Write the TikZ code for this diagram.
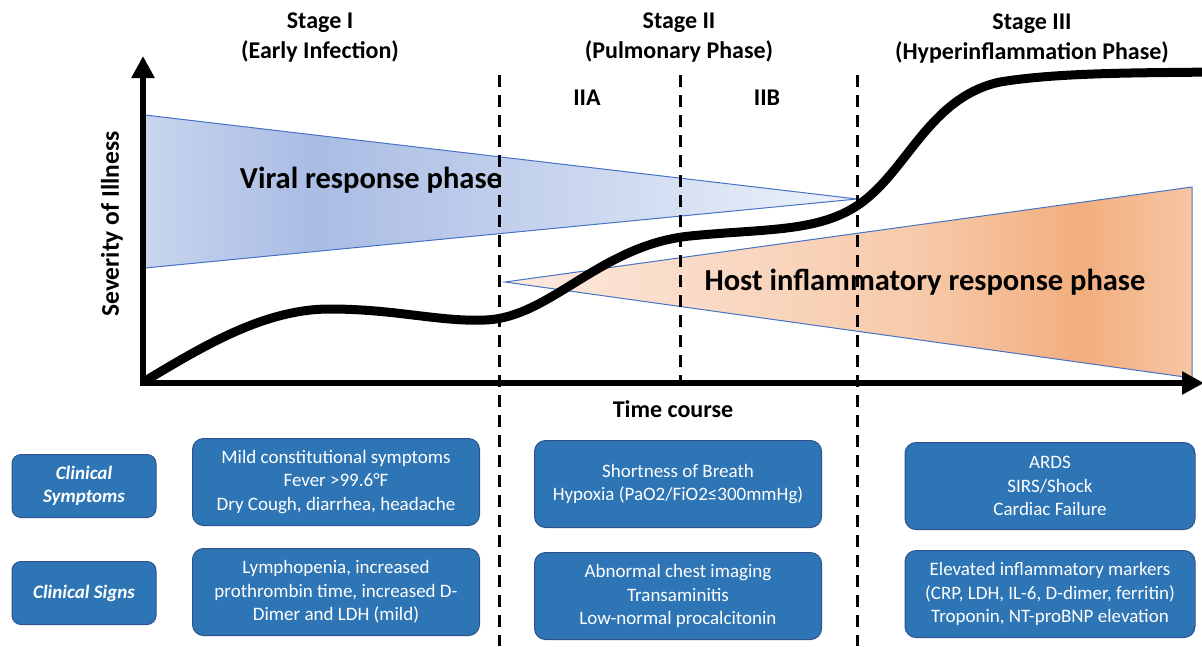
\documentclass[tikz,border=0pt]{standalone}
\usepackage{fontspec}
\setmainfont{Carlito}
\usetikzlibrary{arrows.meta}
\definecolor{boxblue}{HTML}{2E75B6}
\definecolor{boxedge}{HTML}{2F528F}
\definecolor{triedge}{HTML}{4472C4}
\definecolor{vA}{HTML}{C8D5EE}
\definecolor{vB}{HTML}{A9BCE4}
\definecolor{vC}{HTML}{EEF2FA}
\definecolor{oA}{HTML}{FCE9DE}
\definecolor{oM}{HTML}{F7CAAB}
\definecolor{oB}{HTML}{F2AE7E}
\definecolor{oC}{HTML}{F7C6A4}
\pgfdeclarehorizontalshading{viralshade}{100bp}{color(0bp)=(vA); color(25bp)=(vA); color(37bp)=(vB); color(75bp)=(vC); color(100bp)=(vC)}
\pgfdeclarehorizontalshading{hostshade}{100bp}{color(0bp)=(oA); color(25bp)=(oA); color(55bp)=(oM); color(67bp)=(oB); color(75bp)=(oC); color(100bp)=(oC)}
\tikzset{
  head/.style={font=\fontsize{24}{30}\selectfont\bfseries, align=center},
  phase/.style={font=\fontsize{30.5}{36}\selectfont\bfseries},
  infobox/.style={draw=boxedge, line width=1pt, fill=boxblue, rounded corners=11pt, text=white,
     align=center, font=\fontsize{19}{23.5}\selectfont, minimum width=287pt, minimum height=87pt, inner sep=2pt},
  labbox/.style={draw=boxedge, line width=1pt, fill=boxblue, rounded corners=9pt, text=white,
     align=center, font=\fontsize{19}{23.5}\selectfont\bfseries\itshape, minimum width=144pt, minimum height=63pt, inner sep=2pt},
  divider/.style={dash pattern=on 12pt off 8pt, line width=3pt},
  axis/.style={line width=6pt, -{Triangle[length=22pt,width=22pt]}},
  tri/.style={draw=triedge, line width=1pt}
}
\begin{document}
\begin{tikzpicture}[x=1pt,y=-1pt]
\useasboundingbox (0,0) rectangle (1202,646);
\clip (0,0) rectangle (1202,646);
% coordinates
\coordinate (o) at (143,383);
\coordinate (ytip) at (143,56);
\coordinate (xtip) at (1204,383);
\coordinate (v1) at (145,115);
\coordinate (v2) at (145,268);
\coordinate (vt) at (857,199);
\coordinate (h1) at (505,282);
\coordinate (h2) at (1192,187);
\coordinate (h3) at (1192,378);
% triangles
\path[shading=viralshade] (v1) -- (vt) -- (v2) -- cycle;
\draw[tri] (v1) -- (vt) -- (v2) -- cycle;
\path[shading=hostshade] (h1) -- (h2) -- (h3) -- cycle;
\draw[tri] (h1) -- (h2) -- (h3) -- cycle;
% dividers
\coordinate (d1t) at (499,75); \coordinate (d1b) at (499,646);
\coordinate (d2t) at (680,75); \coordinate (d2b) at (680,385);
\coordinate (d3t) at (857,75); \coordinate (d3b) at (857,646);
\draw[divider] (d1t) -- (d1b);
\draw[divider] (d2t) -- (d2b);
\draw[divider] (d3t) -- (d3b);
% curve
\draw[line width=9pt, line cap=round] (145,381)
  .. controls (205,345) and (265,309) .. (330,309)
  .. controls (395,309) and (440,322) .. (485,320)
  .. controls (550,318) and (600,245) .. (690,236)
  .. controls (760,229) and (810,232) .. (850,210)
  .. controls (905,180) and (925,98) .. (1000,82)
  .. controls (1060,72) and (1150,73) .. (1210,72);
% axes
\draw[axis] (o) ++(0,3) -- (ytip);
\draw[axis] (140,383) -- (xtip);
% headings
\node[head] (s1) at (320,38) {Stage I\\(Early Infection)};
\node[head] (s2) at (679,38) {Stage II\\(Pulmonary Phase)};
\node[head] (s3) at (1032,39) {Stage III\\(Hyperinflammation Phase)};
\node[head] (iia) at (587,98) {IIA};
\node[head] (iib) at (767,98) {IIB};
\node[phase] (viral) at (371,180) {Viral response phase};
\node[phase] (host) at (925,282) {Host inflammatory response phase};
\node[head, font=\fontsize{25.5}{30}\selectfont\bfseries, rotate=90] (yl) at (112,224) {Severity of Illness};
\node[head] (xl) at (673,409) {Time course};
% boxes
\node[labbox] (cs) at (84,486) {Clinical\\Symptoms};
\node[labbox] (cg) at (84,593) {Clinical Signs};
\node[infobox] (b1a) at (336,482) {Mild constitutional symptoms\\Fever >99.6°F\\Dry Cough, diarrhea, headache};
\node[infobox] (b1b) at (336,592) {Lymphopenia, increased\\prothrombin time, increased D-\\Dimer and LDH (mild)};
\node[infobox] (b2a) at (678,484) {Shortness of Breath\\Hypoxia (PaO2/FiO2≤300mmHg)};
\node[infobox] (b2b) at (678,596) {Abnormal chest imaging\\Transaminitis\\Low-normal procalcitonin};
\node[infobox, minimum width=290pt] (b3a) at (1050,486) {ARDS\\SIRS/Shock\\Cardiac Failure};
\node[infobox, minimum width=290pt] (b3b) at (1050,594) {Elevated inflammatory markers\\(CRP, LDH, IL-6, D-dimer, ferritin)\\Troponin, NT-proBNP elevation};
\end{tikzpicture}
\end{document}
